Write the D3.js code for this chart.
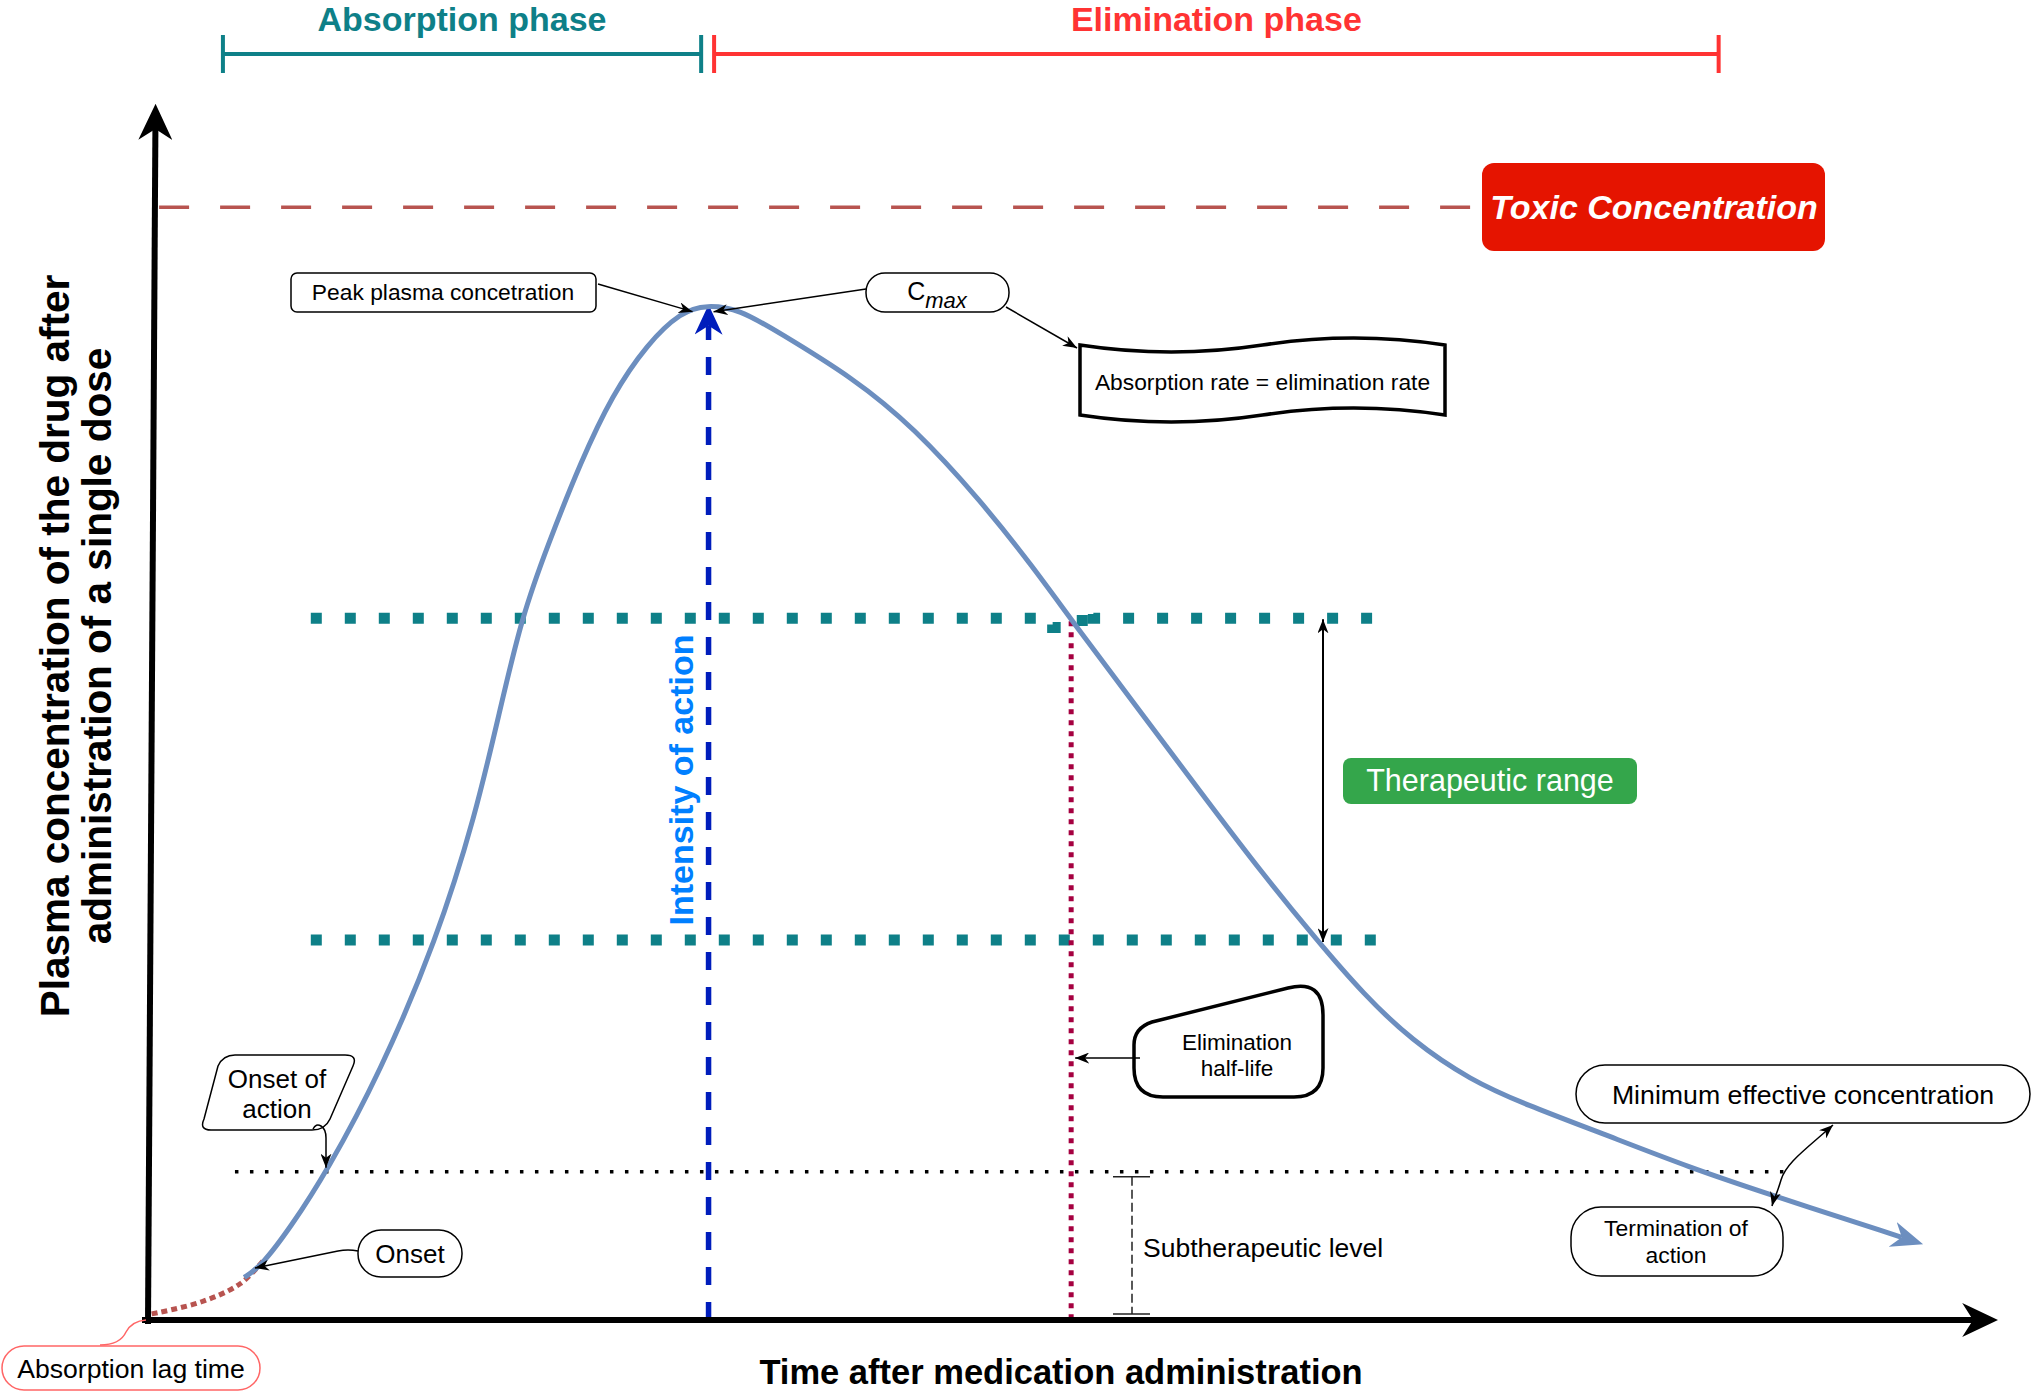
<!DOCTYPE html>
<html>
<head>
<meta charset="utf-8">
<script src="https://cdn.jsdelivr.net/npm/d3@7"></script>
<style>
  body { margin: 0; background: #fff; }
  svg { display: block; }
  text { font-family: "Liberation Sans", Helvetica, Arial, sans-serif; }
</style>
</head>
<body>
<div id="chart"></div>
<script>
// plasma concentration vs time after one dose, arbitrary units (0-100 on both axes)
const lagTime = [0.2, 2.9, 5.0, 6.3];
const lagConc = [0.5, 1.5, 3.0, 5.0];

const curveTime = [5.2, 6.1, 7.7, 9.7, 12.5, 15.6, 17.7, 19.0, 20.2, 21.6, 23.4, 25.1, 27.0, 28.8, 30.2, 32.0,
  34.0, 38.1, 41.4, 45.0, 47.8, 49.9, 53.3, 57.4, 60.2, 63.2, 65.7, 68.3, 71.5, 74.5, 78.5, 83.4, 87.7, 94.8];
const curveConc = [3.5, 4.4, 7.6, 12.3, 20.2, 31.25, 41.5, 50.0, 57.8, 63.7, 70.6, 76.1, 80.3, 82.9, 83.5, 83.1,
  81.3, 77.5, 73.4, 67.4, 62.0, 57.6, 50.7, 42.4, 36.8, 31.2, 26.8, 23.0, 19.7, 17.7, 15.4, 12.5, 10.3, 6.8];

const toxicLevel = 91.5;
const therapeuticUpper = 57.7;
const therapeuticLower = 31.25;
const mecLevel = 12.2;
const tMax = 30.3;
const cMax = 83.5;
const halfLifeTime = 49.9;

// the upper therapeutic line has a small jog where it meets the half-life line
const upperLineTime = [8.8, 48.9, 48.9, 50.5, 50.5, 51.1, 51.1, 66.4];
const upperLineConc = [57.7, 57.7, 56.95, 56.95, 58.5, 58.5, 57.7, 57.7];

const phaseNames = ['Absorption phase', 'Elimination phase'];
const phaseStart = [4.05, 30.6];
const phaseEnd = [29.9, 84.9];

const W = 2032, H = 1393;
const x = d3.scaleLinear().domain([0, 100]).range([148, 1998]);
const y = d3.scaleLinear().domain([0, 100]).range([1320, 104]);

const svg = d3.select('#chart').append('svg').attr('width', W).attr('height', H);
const defs = svg.append('defs');

function addMarker(id, color, len, wid, ref) {
  defs.append('marker')
    .attr('id', id)
    .attr('viewBox', '0 0 10 10')
    .attr('preserveAspectRatio', 'none')
    .attr('markerUnits', 'userSpaceOnUse')
    .attr('markerWidth', len)
    .attr('markerHeight', wid)
    .attr('refX', ref)
    .attr('refY', 5)
    .attr('orient', 'auto-start-reverse')
    .append('path')
    .attr('d', 'M0,0 L10,5 L0,10 L3,5 Z')
    .attr('fill', color);
}
addMarker('ah', '#000', 14, 11, 10);
addMarker('axis', '#000', 36, 34, 3);
addMarker('blue', '#001dbc', 30, 28, 3);
addMarker('curve', '#6c8ebf', 32, 26, 3);

// phase brackets
const phaseColors = ['#0e8088', '#ff3333'];
phaseNames.forEach((name, i) => {
  const x0 = x(phaseStart[i]), x1 = x(phaseEnd[i]);
  const g = svg.append('g').attr('stroke', phaseColors[i]).attr('stroke-width', 4);
  g.append('line').attr('x1', x0).attr('x2', x1).attr('y1', 54).attr('y2', 54);
  g.append('line').attr('x1', x0).attr('x2', x0).attr('y1', 35).attr('y2', 73);
  g.append('line').attr('x1', x1).attr('x2', x1).attr('y1', 35).attr('y2', 73);
  svg.append('text')
    .attr('x', (x0 + x1) / 2).attr('y', 31)
    .attr('text-anchor', 'middle')
    .attr('font-size', 34).attr('font-weight', 'bold')
    .attr('fill', phaseColors[i])
    .text(name);
});

// toxic concentration line
svg.append('line')
  .attr('x1', x(0.6)).attr('x2', x(72.1))
  .attr('y1', y(toxicLevel)).attr('y2', y(toxicLevel))
  .attr('stroke', '#b85450').attr('stroke-width', 3.5)
  .attr('stroke-dasharray', '30 31');

// therapeutic window lines
const line = d3.line();
svg.append('path')
  .attr('d', line(upperLineTime.map((t, i) => [x(t), y(upperLineConc[i])])))
  .attr('fill', 'none')
  .attr('stroke', '#0e8088').attr('stroke-width', 11)
  .attr('stroke-dasharray', '11 23');
svg.append('line')
  .attr('x1', x(8.8)).attr('x2', x(66.6))
  .attr('y1', y(therapeuticLower)).attr('y2', y(therapeuticLower))
  .attr('stroke', '#0e8088').attr('stroke-width', 11)
  .attr('stroke-dasharray', '11 23');

// minimum effective concentration
svg.append('line')
  .attr('x1', x(4.7)).attr('x2', x(88.4))
  .attr('y1', y(mecLevel)).attr('y2', y(mecLevel))
  .attr('stroke', '#000').attr('stroke-width', 3.5)
  .attr('stroke-dasharray', '3.5 11.5');

// elimination half-life marker
svg.append('line')
  .attr('x1', x(halfLifeTime)).attr('x2', x(halfLifeTime))
  .attr('y1', y(therapeuticUpper) + 3).attr('y2', y(0))
  .attr('stroke', '#a50040').attr('stroke-width', 5)
  .attr('stroke-dasharray', '5 6');

// intensity of action (Tmax -> Cmax)
svg.append('line')
  .attr('x1', x(tMax)).attr('x2', x(tMax))
  .attr('y1', y(0)).attr('y2', y(cMax) + 21)
  .attr('stroke', '#001dbc').attr('stroke-width', 5.5)
  .attr('stroke-dasharray', '18 17')
  .attr('marker-end', 'url(#blue)');
svg.append('text')
  .attr('transform', `translate(${x(tMax) - 16},780) rotate(-90)`)
  .attr('text-anchor', 'middle')
  .attr('font-size', 34).attr('font-weight', 'bold')
  .attr('fill', '#007fff')
  .text('Intensity of action');

// absorption lag (dotted) and concentration curve
const smooth = d3.line().curve(d3.curveCatmullRom.alpha(0.5));
svg.append('path')
  .attr('d', smooth(lagTime.map((t, i) => [x(t), y(lagConc[i])])))
  .attr('fill', 'none')
  .attr('stroke', '#b85450').attr('stroke-width', 5)
  .attr('stroke-dasharray', '6 4');
const basis = d3.line().curve(d3.curveBasis);
svg.append('path')
  .attr('d', basis(curveTime.map((t, i) => [x(t), y(curveConc[i])])))
  .attr('fill', 'none')
  .attr('stroke', '#6c8ebf').attr('stroke-width', 5)
  .attr('marker-end', 'url(#curve)');

// axes
svg.append('line')
  .attr('x1', x(0)).attr('y1', y(0) + 4)
  .attr('x2', x(0.4)).attr('y2', y(100) + 25)
  .attr('stroke', '#000').attr('stroke-width', 6)
  .attr('marker-end', 'url(#axis)');
svg.append('line')
  .attr('x1', x(0) - 6).attr('y1', y(0))
  .attr('x2', x(100) - 25).attr('y2', y(0))
  .attr('stroke', '#000').attr('stroke-width', 6)
  .attr('marker-end', 'url(#axis)');

svg.append('text')
  .attr('x', 1061).attr('y', 1384)
  .attr('text-anchor', 'middle')
  .attr('font-size', 34.5).attr('font-weight', 'bold')
  .text('Time after medication administration');
const yTitle = svg.append('text')
  .attr('transform', 'translate(69,646) rotate(-90)')
  .attr('text-anchor', 'middle')
  .attr('font-size', 40.5).attr('font-weight', 'bold');
yTitle.append('tspan').attr('x', 0).attr('y', 0).text('Plasma concentration of the drug after');
yTitle.append('tspan').attr('x', 0).attr('y', 42).text('administration of a single dose');

// ---- annotations ----
const ann = svg.append('g');

function label(g, tx, ty, str, size, opts) {
  const t = g.append('text').attr('x', tx).attr('y', ty)
    .attr('text-anchor', 'middle').attr('font-size', size).text(str);
  if (opts) Object.entries(opts).forEach(([k, v]) => t.attr(k, v));
  return t;
}
function arrow(d, opts) {
  const p = svg.append('path').attr('d', d).attr('fill', 'none')
    .attr('stroke', '#000').attr('stroke-width', 1.5)
    .attr('marker-end', 'url(#ah)');
  if (opts) Object.entries(opts).forEach(([k, v]) => p.attr(k, v));
  return p;
}

// toxic box
svg.append('rect').attr('x', 1482).attr('y', 163).attr('width', 343).attr('height', 88)
  .attr('rx', 12).attr('fill', '#e51400');
label(svg, 1654, 219, 'Toxic Concentration', 34,
  { fill: '#fff', 'font-weight': 'bold', 'font-style': 'italic' });

// peak plasma
const px = x(tMax), py = y(cMax);
ann.append('rect').attr('x', 291).attr('y', 273).attr('width', 305).attr('height', 39)
  .attr('rx', 6).attr('fill', '#fff').attr('stroke', '#000').attr('stroke-width', 1.5);
label(ann, 443, 300, 'Peak plasma concetration', 22.8);
arrow(`M598,284 L${px - 16},${py + 7}`);

// Cmax
ann.append('rect').attr('x', 866).attr('y', 273).attr('width', 143).attr('height', 39)
  .attr('rx', 19).attr('fill', '#fff').attr('stroke', '#000').attr('stroke-width', 1.5);
const cm = ann.append('text').attr('x', 937).attr('y', 300).attr('text-anchor', 'middle');
cm.append('tspan').attr('font-size', 25).text('C');
cm.append('tspan').attr('font-size', 22).attr('font-style', 'italic').attr('dy', 8).text('max');
arrow(`M866,289 L${px + 5},${py + 7}`);
arrow('M1006,307 L1077,348');

// absorption rate = elimination rate (tape shape)
(function () {
  const x0 = 1080, w = 365, top = 345, bot = 415, a = 7;
  const d = `M${x0},${top} Q${x0 + w / 4},${top + 2 * a} ${x0 + w / 2},${top} ` +
    `Q${x0 + 3 * w / 4},${top - 2 * a} ${x0 + w},${top} L${x0 + w},${bot} ` +
    `Q${x0 + 3 * w / 4},${bot - 2 * a} ${x0 + w / 2},${bot} ` +
    `Q${x0 + w / 4},${bot + 2 * a} ${x0},${bot} Z`;
  ann.append('path').attr('d', d).attr('fill', '#fff').attr('stroke', '#000').attr('stroke-width', 3.5);
  label(ann, x0 + w / 2, 390, 'Absorption rate = elimination rate', 22.8);
})();

// therapeutic range
const trX = 1323;
svg.append('line').attr('x1', trX).attr('x2', trX)
  .attr('y1', y(therapeuticUpper) + 1).attr('y2', y(therapeuticLower) + 2)
  .attr('stroke', '#000').attr('stroke-width', 2)
  .attr('marker-start', 'url(#ah)').attr('marker-end', 'url(#ah)');
svg.append('rect').attr('x', 1343).attr('y', 758).attr('width', 294).attr('height', 46)
  .attr('rx', 8).attr('fill', '#34a64b');
label(svg, 1490, 791, 'Therapeutic range', 30.5, { fill: '#fff' });

// elimination half-life
ann.append('path')
  .attr('d', 'M1134,1045 Q1134,1028 1152,1022 L1288,988 Q1323,979 1323,1015 L1323,1068 ' +
    'Q1323,1097 1294,1097 L1163,1097 Q1134,1097 1134,1068 Z')
  .attr('fill', '#fff').attr('stroke', '#000').attr('stroke-width', 3.5);
label(ann, 1237, 1050, 'Elimination', 22.5);
label(ann, 1237, 1076, 'half-life', 22.5);
arrow(`M1140,1058 L${x(halfLifeTime) + 4},1058`);

// subtherapeutic level
const sx = 1132;
const sub = svg.append('g').attr('stroke', '#222').attr('stroke-width', 1.5);
sub.append('line').attr('x1', sx).attr('x2', sx).attr('y1', y(mecLevel) + 5).attr('y2', y(0) - 6)
  .attr('stroke-dasharray', '9 4');
sub.append('line').attr('x1', sx - 19).attr('x2', sx + 18).attr('y1', y(mecLevel) + 5).attr('y2', y(mecLevel) + 5);
sub.append('line').attr('x1', sx - 19).attr('x2', sx + 18).attr('y1', y(0) - 6).attr('y2', y(0) - 6);
svg.append('text').attr('x', 1143).attr('y', 1257).attr('font-size', 26.5).text('Subtherapeutic level');

// minimum effective concentration / termination of action
ann.append('rect').attr('x', 1576).attr('y', 1065).attr('width', 454).attr('height', 58)
  .attr('rx', 29).attr('fill', '#fff').attr('stroke', '#000').attr('stroke-width', 1.5);
label(ann, 1803, 1104, 'Minimum effective concentration', 26.7);
ann.append('rect').attr('x', 1571).attr('y', 1207).attr('width', 212).attr('height', 69)
  .attr('rx', 30).attr('fill', '#fff').attr('stroke', '#000').attr('stroke-width', 1.5);
label(ann, 1676, 1236, 'Termination of', 22.9);
label(ann, 1676, 1263, 'action', 22.9);
arrow('M1833,1125 C1805,1150 1786,1163 1781,1180 S1774,1198 1772,1206',
  { 'marker-start': 'url(#ah)' });

// onset of action
ann.append('path')
  .attr('d', 'M235,1055 L345,1055 Q358,1055 353,1066 L330,1119 Q325,1130 312,1130 ' +
    'L211,1130 Q199,1130 204,1119 L218,1066 Q223,1055 235,1055 Z')
  .attr('fill', '#fff').attr('stroke', '#000').attr('stroke-width', 1.5);
label(ann, 277, 1088, 'Onset of', 26);
label(ann, 277, 1118, 'action', 26);
arrow(`M313,1129 Q316,1123 321,1126 Q326,1129 326,1138 L326,${y(mecLevel) - 4}`);

// onset
ann.append('rect').attr('x', 358).attr('y', 1230).attr('width', 104).attr('height', 47)
  .attr('rx', 23).attr('fill', '#fff').attr('stroke', '#000').attr('stroke-width', 1.5);
label(ann, 410, 1263, 'Onset', 26);
arrow('M358,1251 Q348,1249 338,1251 L255,1268');

// absorption lag time
svg.append('path').attr('d', 'M100,1345 Q120,1345 126,1332 Q132,1321 146,1320')
  .attr('fill', 'none').attr('stroke', '#ff6666').attr('stroke-width', 1.5);
ann.append('rect').attr('x', 2).attr('y', 1346).attr('width', 258).attr('height', 44)
  .attr('rx', 22).attr('fill', '#fff').attr('stroke', '#ff6666').attr('stroke-width', 1.5);
label(ann, 131, 1378, 'Absorption lag time', 26.6);
</script>
</body>
</html>
